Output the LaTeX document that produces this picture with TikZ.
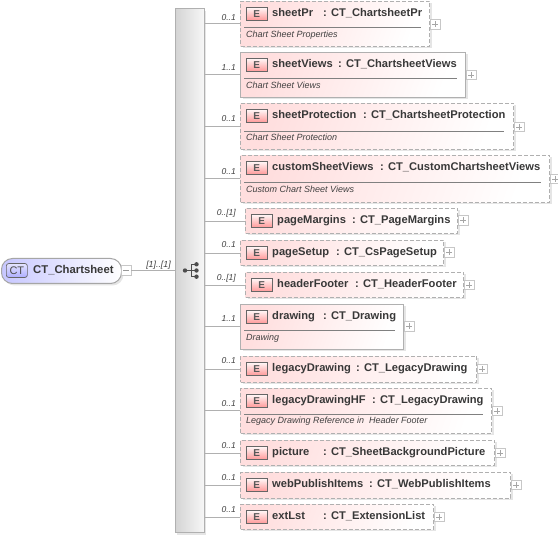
\documentclass[tikz,border=0pt]{standalone}
\usepackage{fontspec}
\setmainfont{Liberation Sans}
\usetikzlibrary{shadows,calc}
\definecolor{lne}{HTML}{B0B0B0}
\definecolor{pinkb}{HTML}{FFDEDE}
\tikzset{x=1pt,y=-1pt,
 softshadow/.style={drop shadow={shadow xshift=2pt,shadow yshift=-2pt,fill=black!10,opacity=1}},
 elt/.style={draw=lne,line width=1pt,left color=pinkb,right color=white,shading angle=70,softshadow,inner sep=0},
 opt/.style={elt,dash pattern=on 4pt off 2pt},
 req/.style={elt},
 tag/.style={draw=black!60,line width=.6pt,top color=white!90!pink,bottom color=red!40,minimum width=21pt,minimum height=13pt,inner sep=0,font=\fontsize{10}{10}\selectfont\bfseries,text=black!65},
 ttl/.style={anchor=base west,inner sep=0,font=\fontsize{11.15}{13}\selectfont\bfseries,text=black!78},
 doc/.style={anchor=base west,inner sep=0,font=\fontsize{9}{10}\selectfont\itshape,text=black!75},
 card/.style={anchor=base east,inner sep=0,font=\fontsize{8.5}{10}\selectfont\itshape,text=black!75},
 pm/.style={draw=black!22,fill=white,line width=.5pt,minimum size=9.5pt,inner sep=0},
 conn/.style={draw=lne,line width=.8pt},
 sep/.style={draw=black!50,line width=.7pt}}
\newcommand{\ROW}[9]{% id x0 y0 x1 y1 style name typeX type
 \node[#6,minimum width=#4pt-#2pt,minimum height=#5pt-#3pt,anchor=north west] (#1) at (#2,#3) {};
 \node[tag,anchor=north west] (#1t) at (#2+6,#3+6) {E};
 \node[ttl] (#1n) at (#2+32,#3+15.8) {#7};
 \node[ttl] (#1c) at (#8,#3+15.8) {#9};
}
\begin{document}
\begin{tikzpicture}
\useasboundingbox (0,0) rectangle (558,537);
\fill[white] (0,0) rectangle (558,537);
% compositor bar
\node[draw=lne,line width=.8pt,left color=black!17,right color=black!3,softshadow,minimum width=29pt,minimum height=524pt,anchor=north west,inner sep=0] (bar) at (175,8.5) {};
% root
\node[draw=black!35,line width=1pt,rounded corners=11pt,left color=blue!22,right color=white,minimum width=120pt,minimum height=25pt,anchor=north west,inner sep=0,softshadow] (root) at (1,258) {};
\node[draw=black!60,line width=.7pt,rounded corners=2.5pt,top color=blue!10,bottom color=blue!32,minimum width=21pt,minimum height=14pt,inner sep=0,font=\fontsize{11}{11}\selectfont,text=black!70,anchor=west] (ctag) at (6,270.5) {CT};
\node[ttl,font=\fontsize{11.3}{13}\selectfont\bfseries] (rootn) at (33,274) {CT\_Chartsheet};
\node[pm,anchor=west] (rootp) at (121,270.5) {};
\draw[black!40,line width=.5pt] ($(rootp)+(-3,0)$)--($(rootp)+(3,0)$);
\draw[conn] (rootp.east)--(bar.west|-rootp);
\node[anchor=base,inner sep=0,font=\fontsize{8.8}{10}\selectfont\itshape,text=black!75] (rootc) at (158.5,267.5) {[1]..[1]};
% sequence icon
\coordinate (i0) at (185,270.5);
\coordinate (i1) at (196.5,264.3);
\coordinate (i2) at (196.5,270.5);
\coordinate (i3) at (196.5,276.7);
\draw[black!70,line width=.9pt] (i0)--(191.5,270.5) (191.5,264.3)--(191.5,276.7) (191.5,264.3)--(i1) (191.5,270.5)--(i2) (191.5,276.7)--(i3);
\foreach \p in {i0,i1,i2,i3}\fill[black!70] (\p) circle (2.2pt);
% rows
\ROW{a}{240}{1}{429}{46}{opt}{sheetPr}{323}{: CT\_ChartsheetPr}
\ROW{b}{240}{52}{465}{97}{req}{sheetViews}{338}{: CT\_ChartsheetViews}
\ROW{c}{240}{103}{513}{149}{opt}{sheetProtection}{363}{: CT\_ChartsheetProtection}
\ROW{d}{240}{155}{549}{202}{opt}{customSheetViews}{380}{: CT\_CustomChartsheetViews}
\ROW{e}{245}{208}{457}{233}{opt}{pageMargins}{352}{: CT\_PageMargins}
\ROW{f}{240}{240}{443}{265}{opt}{pageSetup}{336}{: CT\_CsPageSetup}
\ROW{g}{245}{272}{463}{297}{opt}{headerFooter}{355}{: CT\_HeaderFooter}
\ROW{h}{240}{304}{403}{349}{req}{drawing}{323}{: CT\_Drawing}
\ROW{i}{240}{356}{476}{382}{opt}{legacyDrawing}{356}{: CT\_LegacyDrawing}
\ROW{j}{240}{388}{491}{433}{opt}{legacyDrawingHF}{372}{: CT\_LegacyDrawing}
\ROW{k}{240}{440}{494}{465}{opt}{picture}{323}{: CT\_SheetBackgroundPicture}
\ROW{l}{240}{472}{510}{498}{opt}{webPublishItems}{369}{: CT\_WebPublishItems}
\ROW{m}{240}{504}{433}{529}{opt}{extLst}{323}{: CT\_ExtensionList}
\foreach \y/\xb in {27.3/421,78/457,131/504,182/541,330/395,414/483}{
 \draw[sep] (244,\y)--(\xb,\y);
}
\node[doc] (ad) at (246,37.7) {Chart Sheet Properties};
\node[doc] (bd) at (246,89) {Chart Sheet Views};
\node[doc] (cd) at (246,141) {Chart Sheet Protection};
\node[doc] (dd) at (246,193) {Custom Chart Sheet Views};
\node[doc] (hd) at (246,341) {Drawing};
\node[doc] (jd) at (246,424) {Legacy Drawing Reference in\ \ Header Footer};
% plus boxes and connectors
\foreach \n/\y/\py/\c/\ty in {a/23.5/24.5/0..1/20.5,b/74/75/1..1/71,c/126/127/0..1/122,d/178/179/0..1/175,e/221/220.5/0..[1]/216,f/253/252.5/0..1/248,g/285/285/0..[1]/281,h/326/326.5/1..1/322,i/369/369/0..1/364,j/410/411/0..1/407,k/453/453/0..1/449,l/485/485/0..1/481,m/517/517/0..1/513}{
 \node[pm] (\n p) at ($(\n.east|-0,\py)+(5,0)$) {};
 \draw[black!35,line width=.5pt] ($(\n p)+(-3,0)$)--($(\n p)+(3,0)$) ($(\n p)+(0,-3)$)--($(\n p)+(0,3)$);
 \draw[conn] (bar.east|-0,\y)--(\n.west|-0,\y);
 \node[card] (\n k) at (236,\ty) {\c};
}
\end{tikzpicture}
\end{document}
